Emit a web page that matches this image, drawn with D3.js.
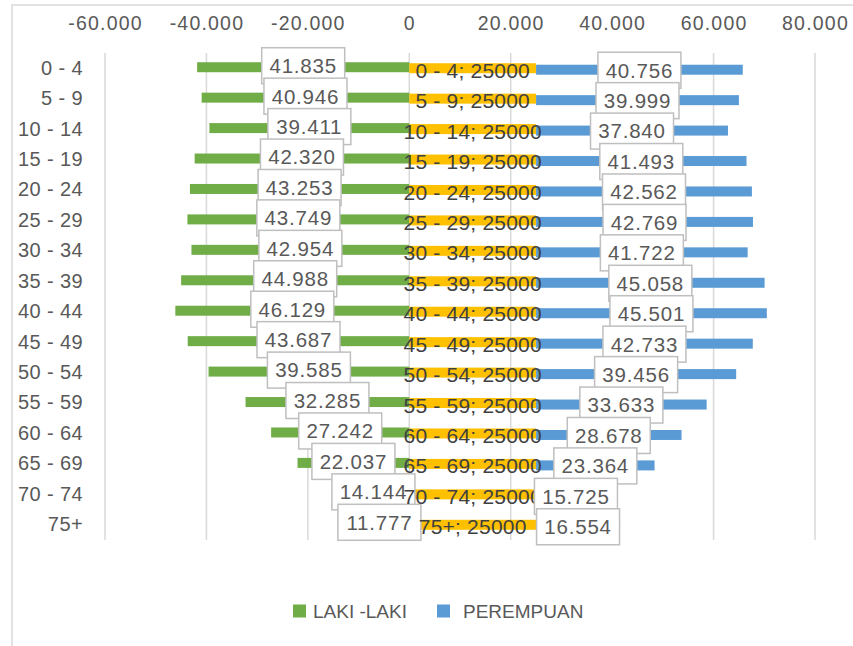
<!DOCTYPE html>
<html>
<head>
<meta charset="utf-8">
<script src="https://cdn.jsdelivr.net/npm/d3@7"></script>
<style>
  html, body { margin: 0; padding: 0; background: #fff; }
  svg { display: block; font-family: "Liberation Sans", Arial, sans-serif; }
</style>
</head>
<body>
<svg id="chart" width="853" height="646"></svg>
<script>
const categories = ["0 - 4","5 - 9","10 - 14","15 - 19","20 - 24","25 - 29","30 - 34","35 - 39","40 - 44","45 - 49","50 - 54","55 - 59","60 - 64","65 - 69","70 - 74","75+"];
const lakiLaki = [41835,40946,39411,42320,43253,43749,42954,44988,46129,43687,39585,32285,27242,22037,14144,11777];
const offsetValues = [25000,25000,25000,25000,25000,25000,25000,25000,25000,25000,25000,25000,25000,25000,25000,25000];
const perempuan = [40756,39999,37840,41493,42562,42769,41722,45058,45501,42733,39456,33633,28678,23364,15725,16554];
const xTicks = [-60000,-40000,-20000,0,20000,40000,60000,80000];
const legendLabels = ["LAKI -LAKI","PEREMPUAN"];

const colors = { green: "#70AD47", yellow: "#FFC000", blue: "#5B9BD5" };

const loc = d3.formatLocale({decimal: ",", thousands: ".", grouping: [3], currency: ["", ""], minus: "-"});
const fmt = loc.format(",d");

const svg = d3.select("#chart");

// outer chart border
svg.append("path").attr("d", "M12,646V5H853")
  .attr("fill", "none").attr("stroke", "#d9d9d9").attr("stroke-width", 1.5);

const x = d3.scaleLinear().domain([-60000, 80000]).range([105, 815]);
const y = d3.scaleBand().domain(categories).range([53, 540]);
const bh = 10;

// gridlines
svg.append("g").selectAll("line").data(xTicks).join("line")
  .attr("x1", d => x(d)).attr("x2", d => x(d))
  .attr("y1", 53).attr("y2", 540)
  .attr("stroke", "#d9d9d9").attr("stroke-width", 1.5);

// top axis
const xAxis = svg.append("g").attr("transform", "translate(0,30)")
  .call(d3.axisTop(x).tickValues(xTicks).tickSize(0).tickPadding(0).tickFormat(fmt));
xAxis.select(".domain").remove();
xAxis.selectAll("text").attr("fill", "#595959").style("font-size", "19.5px")
  .style("letter-spacing", "1.2px").style("font-family", "Liberation Sans, Arial, sans-serif");

// left axis
const yAxis = svg.append("g").attr("transform", "translate(83,0)")
  .call(d3.axisLeft(y).tickSize(0).tickPadding(0));
yAxis.select(".domain").remove();
yAxis.selectAll("text").attr("fill", "#595959").style("font-size", "20px")
  .style("letter-spacing", "0.4px").style("font-family", "Liberation Sans, Arial, sans-serif");

const cy = c => y(c) + y.bandwidth() / 2;

// bars
svg.append("g").selectAll("rect").data(categories).join("rect")
  .attr("x", (c, i) => x(-lakiLaki[i])).attr("width", (c, i) => x(0) - x(-lakiLaki[i]))
  .attr("y", c => cy(c) - 6).attr("height", bh).attr("fill", colors.green);
svg.append("g").selectAll("rect").data(categories).join("rect")
  .attr("x", () => x(0)).attr("width", (c, i) => x(offsetValues[i]) - x(0))
  .attr("y", c => cy(c) - 5).attr("height", bh).attr("fill", colors.yellow);
svg.append("g").selectAll("rect").data(categories).join("rect")
  .attr("x", (c, i) => x(offsetValues[i])).attr("width", (c, i) => x(offsetValues[i] + perempuan[i]) - x(offsetValues[i]))
  .attr("y", c => cy(c) - 3.5).attr("height", bh).attr("fill", colors.blue);

// label helper
function boxLabel(g, cx, cyy, txt) {
  const w = 83, h = 36;
  g.append("rect").attr("x", cx - w / 2).attr("y", cyy - h / 2).attr("width", w).attr("height", h)
    .attr("fill", "#fff").attr("stroke", "#bfbfbf").attr("stroke-width", 1.5);
  g.append("text").attr("x", cx).attr("y", cyy).attr("dy", "0.36em")
    .attr("text-anchor", "middle").attr("fill", "#595959")
    .style("font-size", "20.5px").style("letter-spacing", "0.8px").text(txt);
}

// green labels
const gl = svg.append("g");
categories.forEach((c, i) => {
  boxLabel(gl.append("g"), (x(0) + x(-lakiLaki[i])) / 2, cy(c) - 2.5, fmt(lakiLaki[i]));
});
// yellow labels
const yl = svg.append("g");
categories.forEach((c, i) => {
  yl.append("text").attr("x", (x(0) + x(offsetValues[i])) / 2).attr("y", cy(c) + 2).attr("dy", "0.36em")
    .attr("text-anchor", "middle").attr("fill", "#404040")
    .style("font-size", "21px").style("letter-spacing", "0.2px")
    .text(c + "; " + offsetValues[i]);
});
// blue labels
const bl = svg.append("g");
categories.forEach((c, i) => {
  boxLabel(bl.append("g"), (x(offsetValues[i]) + x(offsetValues[i] + perempuan[i])) / 2, cy(c) + 2, fmt(perempuan[i]));
});

// legend
const leg = svg.append("g");
const legItems = [{label: legendLabels[0], color: colors.green, x: 293}, {label: legendLabels[1], color: colors.blue, x: 437}];
legItems.forEach(d => {
  leg.append("rect").attr("x", d.x).attr("y", 604.5).attr("width", 13).attr("height", 13).attr("fill", d.color);
  leg.append("text").attr("x", d.x + 20 + (d.color === colors.blue ? 6 : 0)).attr("y", 617.5)
    .attr("fill", "#595959").style("font-size", "19px").text(d.label);
});
</script>
</body>
</html>
